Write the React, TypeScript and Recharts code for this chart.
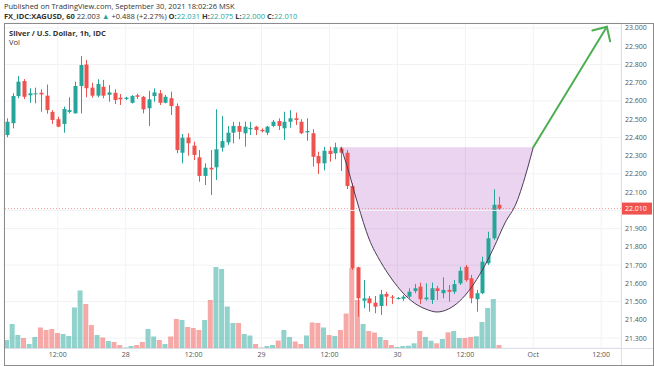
import React from "react";
import {
  Area,
  Bar,
  CartesianGrid,
  Cell,
  ComposedChart,
  Line,
  ReferenceLine,
  XAxis,
  YAxis,
} from "recharts";

// hourly XAGUSD candles, 27 Sep 03:00 .. 30 Sep 18:00 (one slot per bar)
const opens = [
  22.413, 22.478, 22.627, 22.709, 22.631, 22.637, 22.645, 22.629, 22.54, 22.5,
  22.474, 22.54, 22.532, 22.682, 22.8, 22.673, 22.629, 22.678, 22.634, 22.645,
  22.618, 22.611, 22.59, 22.631, 22.623, 22.56, 22.627, 22.642, 22.59, 22.615,
  22.572, 22.316, 22.4, 22.355, 22.291, 22.189, 22.234, 22.236, 22.344, 22.373,
  22.426, 22.463, 22.423, 22.445, 22.459, 22.441, 22.426, 22.463, 22.49, 22.45,
  22.486, 22.505, 22.486, 22.428, 22.423, 22.298, 22.258, 22.327, 22.313, 22.34,
  22.316, 22.134, 21.688, 21.505, 21.518, 21.494, 21.476, 21.542, 21.527, 21.518,
  21.516, 21.527, 21.558, 21.582, 21.513, 21.509, 21.573, 21.546, 21.564, 21.554,
  21.6, 21.691, 21.628, 21.513, 21.546, 21.71, 21.847, 22.031,
];
const highs = [
  22.505, 22.642, 22.737, 22.72, 22.67, 22.673, 22.664, 22.69, 22.55, 22.514,
  22.569, 22.62, 22.706, 22.846, 22.825, 22.7, 22.719, 22.715, 22.687, 22.664,
  22.638, 22.623, 22.632, 22.64, 22.627, 22.656, 22.669, 22.66, 22.633, 22.651,
  22.587, 22.419, 22.423, 22.377, 22.331, 22.258, 22.331, 22.554, 22.518, 22.463,
  22.486, 22.486, 22.486, 22.485, 22.463, 22.45, 22.463, 22.496, 22.505, 22.541,
  22.55, 22.536, 22.5, 22.505, 22.445, 22.322, 22.348, 22.349, 22.371, 22.349,
  22.331, 22.15, 21.691, 21.618, 21.531, 21.531, 21.564, 21.554, 21.536, 21.525,
  21.536, 21.573, 21.597, 21.604, 21.6, 21.604, 21.586, 21.633, 21.591, 21.618,
  21.691, 21.701, 21.646, 21.564, 21.746, 21.883, 22.116, 22.075,
];
const lows = [
  22.401, 22.45, 22.615, 22.61, 22.59, 22.587, 22.541, 22.53, 22.474, 22.456,
  22.426, 22.532, 22.532, 22.532, 22.62, 22.618, 22.62, 22.615, 22.596, 22.583,
  22.578, 22.605, 22.586, 22.61, 22.532, 22.463, 22.596, 22.578, 22.587, 22.523,
  22.313, 22.258, 22.3, 22.276, 22.157, 22.139, 22.084, 22.167, 22.322, 22.359,
  22.368, 22.39, 22.35, 22.413, 22.413, 22.428, 22.413, 22.456, 22.441, 22.386,
  22.453, 22.468, 22.419, 22.382, 22.24, 22.2, 22.22, 22.267, 22.28, 22.216,
  22.117, 21.673, 21.417, 21.463, 21.445, 21.436, 21.427, 21.476, 21.487, 21.512,
  21.504, 21.518, 21.546, 21.487, 21.505, 21.487, 21.509, 21.518, 21.5, 21.542,
  21.591, 21.609, 21.491, 21.445, 21.542, 21.701, 21.838, 22.0,
];
const closes = [
  22.486, 22.627, 22.706, 22.623, 22.642, 22.642, 22.636, 22.55, 22.496, 22.459,
  22.556, 22.55, 22.682, 22.797, 22.67, 22.629, 22.693, 22.629, 22.647, 22.605,
  22.609, 22.618, 22.627, 22.623, 22.554, 22.609, 22.647, 22.59, 22.623, 22.572,
  22.331, 22.399, 22.368, 22.304, 22.189, 22.234, 22.225, 22.335, 22.38, 22.426,
  22.463, 22.431, 22.459, 22.452, 22.441, 22.434, 22.459, 22.486, 22.463, 22.486,
  22.505, 22.496, 22.423, 22.435, 22.294, 22.258, 22.327, 22.309, 22.346, 22.316,
  22.134, 21.683, 21.518, 21.518, 21.491, 21.472, 21.54, 21.527, 21.521, 21.52,
  21.527, 21.554, 21.573, 21.513, 21.522, 21.573, 21.558, 21.564, 21.554, 21.596,
  21.669, 21.618, 21.518, 21.546, 21.719, 21.847, 22.031, 22.01,
];
const volumes = [
  80, 240, 130, 100, 40, 110, 205, 180, 190, 150,
  140, 120, 405, 575, 440, 230, 130, 105, 70, 60,
  30, 5, 20, 30, 60, 190, 115, 80, 40, 115,
  290, 280, 210, 200, 180, 280, 480, 810, 790, 415,
  250, 250, 140, 125, 40, 5, 20, 30, 75, 180,
  110, 65, 40, 125, 255, 250, 205, 130, 120, 180,
  345, 800, 480, 240, 170, 155, 110, 80, 30, 10,
  20, 23, 47, 170, 110, 73, 47, 90, 157, 170,
  100, 100, 110, 117, 260, 400, 490, 30,
];

const slotCount = 109;
const timeTicks = [9, 21, 33, 45, 57, 69, 81, 93, 105];
const timeLabels = ["12:00", "28", "12:00", "29", "12:00", "30", "12:00", "Oct", "12:00"];
// 22.000 sits under the last-price tag, so only its grid line is drawn
const priceTicks = [
  21.3, 21.4, 21.5, 21.6, 21.7, 21.8, 21.9, 22.1, 22.2, 22.3, 22.4, 22.5,
  22.6, 22.7, 22.8, 22.9, 23.0,
];
const hiddenTick = 22.0;

// cup drawing: rim level and bottom curve
const cupRim = 22.346;
const cupSlots = [59, 60, 62, 64, 66, 68, 70, 72, 74, 76, 78, 80, 82, 84, 86, 88, 90, 92, 93];
const cupCurve = [
  22.346, 22.254, 22.035, 21.843, 21.72, 21.624, 21.547, 21.492, 21.459, 21.443,
  21.459, 21.503, 21.575, 21.673, 21.794, 21.931, 22.04, 22.232, 22.346,
];
const arrowStart = { x: 93, y: 22.346 };
const arrowEnd = { x: 106, y: 23.007 };
const lastPrice = 22.01;

const UP = "#26a69a";
const DOWN = "#ef5350";
const GRID = "#f0f2f6";
const FONT = "'Open Sans', sans-serif";

const data = Array.from({ length: slotCount }, (_, i) => {
  const row: any = { i };
  if (i < opens.length) {
    row.o = opens[i];
    row.h = highs[i];
    row.l = lows[i];
    row.c = closes[i];
    row.range = [lows[i], highs[i]];
    row.v = volumes[i];
  }
  const k = cupSlots.indexOf(i);
  if (k >= 0) {
    row.cup = cupCurve[k];
    row.cupBand = [cupCurve[k], cupRim];
  }
  return row;
});

function Candle(props: any) {
  const { x, y, width, height, payload } = props;
  if (!payload || payload.o == null || !isFinite(y)) return null;
  const top = Math.min(y, y + height);
  const bot = Math.max(y, y + height);
  const span = payload.h - payload.l;
  const py = (p: number) => (span === 0 ? top : top + ((payload.h - p) / span) * (bot - top));
  const cx = Math.round(x + width / 2) + 0.5;
  const color = payload.c >= payload.o ? UP : DOWN;
  const bt = py(Math.max(payload.o, payload.c));
  const bb = py(Math.min(payload.o, payload.c));
  return (
    <g>
      <line x1={cx} x2={cx} y1={top} y2={bot} stroke={color} strokeWidth={1} />
      <rect x={cx - 2} y={bt} width={4} height={Math.max(1, bb - bt)} fill={color} />
    </g>
  );
}

function Arrow(props: any) {
  const { x1, y1, x2, y2 } = props;
  const back = Math.atan2(y1 - y2, x1 - x2);
  const len = 15;
  const spread = 0.77;
  const p1 = `${x2 + len * Math.cos(back - spread)},${y2 + len * Math.sin(back - spread)}`;
  const p2 = `${x2 + len * Math.cos(back + spread)},${y2 + len * Math.sin(back + spread)}`;
  return (
    <g stroke="#4caf50" strokeWidth={2} fill="none" strokeLinecap="round">
      <line x1={x1} y1={y1} x2={x2} y2={y2} />
      <polyline points={`${p1} ${x2},${y2} ${p2}`} />
    </g>
  );
}

function PriceTag(props: any) {
  const vb = props.viewBox;
  if (!vb) return null;
  const x = vb.x + vb.width + 1;
  return (
    <g>
      <rect x={x} y={vb.y - 6} width={30} height={12} fill={DOWN} />
      <text x={x + 3} y={vb.y + 2.5} fill="#fff" fontSize={7} fontFamily={FONT}>
        {lastPrice.toFixed(3)}
      </text>
    </g>
  );
}

const teal = { color: UP };

export default function App() {
  return (
    <div style={{ position: "fixed", left: 0, top: 0, width: 654, height: 366, background: "#fff", fontFamily: FONT, color: "#333" }}>
      <div style={{ position: "absolute", left: 4, top: 1, fontSize: 7.5, lineHeight: "10px", whiteSpace: "nowrap" }}>
        Published on TradingView.com, September 30, 2021 18:02:26 MSK
      </div>
      <div style={{ position: "absolute", left: 4, top: 11, fontSize: 7.5, lineHeight: "10px", whiteSpace: "nowrap" }}>
        <b>FX_IDC:XAGUSD, 60</b> 22.003 <span style={teal}>▲</span> +0.488 (+2.27%) <b>O:</b>
        <span style={teal}>22.031</span> <b>H:</b><span style={teal}>22.075</span> <b>L:</b>
        <span style={teal}>22.000</span> <b>C:</b><span style={teal}>22.010</span>
      </div>
      <div style={{ position: "absolute", left: 0, top: 0 }}>
        <ComposedChart width={654} height={366} data={data} margin={{ top: 23, right: 1, bottom: 2, left: 4 }}>
          <CartesianGrid stroke={GRID} />
          <XAxis
            dataKey="i"
            type="category"
            ticks={timeTicks}
            tickFormatter={(v: number) => timeLabels[timeTicks.indexOf(v)] ?? ""}
            axisLine={false}
            tickLine={false}
            tickSize={4}
            tickMargin={0}
            height={16}
            tick={{ fill: "#555", fontSize: 7, fontFamily: FONT }}
          />
          <XAxis xAxisId="v" dataKey="i" type="category" hide />
          <YAxis
            orientation="right"
            width={32}
            domain={[21.2456, 23.0274]}
            ticks={priceTicks}
            tickFormatter={(v: number) => v.toFixed(3)}
            axisLine={false}
            tickLine={false}
            tickSize={4}
            tickMargin={0}
            tick={{ fill: "#555", fontSize: 7, fontFamily: FONT, textAnchor: "start" }}
            allowDataOverflow
          />
          <YAxis yAxisId="vol" hide domain={[0, 3250]} />
          <ReferenceLine y={hiddenTick} stroke={GRID} />
          <Bar xAxisId="v" yAxisId="vol" dataKey="v" barSize={5} isAnimationActive={false}>
            {data.map((d, idx) => (
              <Cell
                key={idx}
                fill={d.o == null ? "transparent" : d.c >= d.o ? "rgba(38,166,154,0.5)" : "rgba(239,83,80,0.5)"}
              />
            ))}
          </Bar>
          <Bar dataKey="range" barSize={4} shape={<Candle />} isAnimationActive={false} />
          <Area
            dataKey="cupBand"
            type="monotone"
            connectNulls
            stroke="none"
            fill="#9c27b0"
            fillOpacity={0.2}
            isAnimationActive={false}
          />
          <Line
            dataKey="cup"
            type="monotone"
            connectNulls
            stroke="#4b3b57"
            strokeWidth={1}
            dot={false}
            isAnimationActive={false}
          />
          <ReferenceLine y={lastPrice} stroke={DOWN} strokeOpacity={0.55} strokeDasharray="1 2" label={PriceTag} />
          <ReferenceLine segment={[arrowStart, arrowEnd]} shape={Arrow} />
        </ComposedChart>
      </div>
      <div style={{ position: "absolute", left: 621, top: 23, width: 1, height: 342, background: "#dcdfe6" }} />
      <div style={{ position: "absolute", left: 4, top: 348, width: 649, height: 1, background: "#dcdfe6" }} />
      <div style={{ position: "absolute", left: 4, top: 23, width: 650, height: 343, border: "1px solid #8c8c8c", boxSizing: "border-box" }} />
      <div style={{ position: "absolute", left: 9, top: 28, fontSize: 7.5, lineHeight: "10px", fontWeight: 700, whiteSpace: "nowrap" }}>
        Silver / U.S. Dollar, 1h, IDC
      </div>
      <div style={{ position: "absolute", left: 9, top: 37, fontSize: 7.5, lineHeight: "10px", whiteSpace: "nowrap" }}>Vol</div>
    </div>
  );
}
